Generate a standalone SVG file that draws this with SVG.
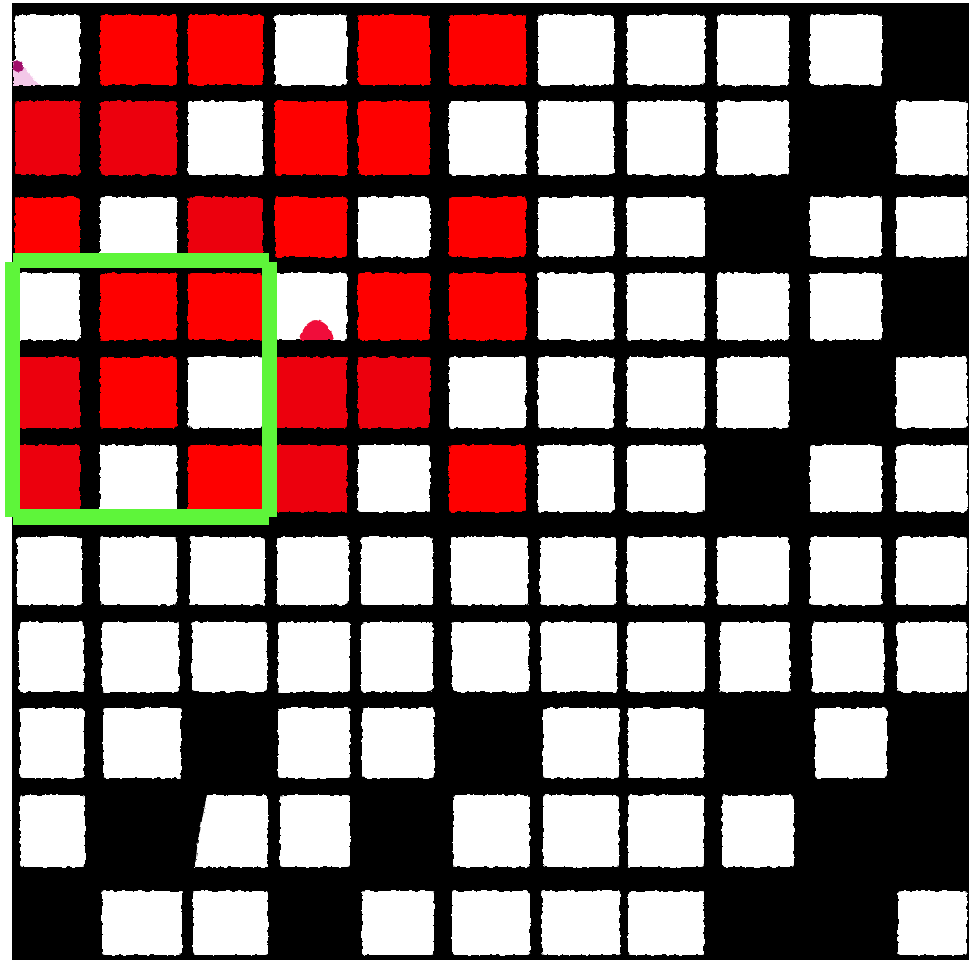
<svg xmlns="http://www.w3.org/2000/svg" width="969" height="960" viewBox="0 0 969 960">
<style>
.w{fill:#ffffff}
.r{fill:#fe0000}
.rd{fill:#ec0307}
</style>
<defs>
<filter id="rough" x="-5%" y="-5%" width="110%" height="110%">
<feTurbulence type="fractalNoise" baseFrequency="0.18" numOctaves="2" seed="3" result="n"/>
<feDisplacementMap in="SourceGraphic" in2="n" scale="4" xChannelSelector="R" yChannelSelector="G"/>
</filter>
</defs>
<rect x="0" y="0" width="969" height="960" fill="#ffffff"/>
<rect x="12" y="3" width="957" height="957" fill="#000000"/>
<g id="cells" filter="url(#rough)">
<!-- row 0 -->
<rect class="w" x="15" y="15" width="65" height="70" rx="3"/>
<rect class="r" x="100" y="15" width="77" height="70" rx="3"/>
<rect class="r" x="188" y="15" width="75" height="70" rx="3"/>
<rect class="w" x="275" y="15" width="72" height="70" rx="3"/>
<rect class="r" x="358" y="15" width="72" height="70" rx="3"/>
<rect class="r" x="449" y="15" width="77" height="70" rx="3"/>
<rect class="w" x="538" y="15" width="76" height="70" rx="3"/>
<rect class="w" x="627" y="15" width="78" height="70" rx="3"/>
<rect class="w" x="717" y="15" width="72" height="70" rx="3"/>
<rect class="w" x="810" y="15" width="72" height="70" rx="3"/>
<!-- row 1 -->
<rect class="rd" x="15" y="101" width="65" height="74" rx="3"/>
<rect class="rd" x="100" y="101" width="77" height="74" rx="3"/>
<rect class="w" x="188" y="101" width="75" height="74" rx="3"/>
<rect class="r" x="275" y="101" width="72" height="74" rx="3"/>
<rect class="r" x="358" y="101" width="72" height="74" rx="3"/>
<rect class="w" x="449" y="101" width="77" height="74" rx="3"/>
<rect class="w" x="538" y="101" width="76" height="74" rx="3"/>
<rect class="w" x="627" y="101" width="78" height="74" rx="3"/>
<rect class="w" x="717" y="101" width="72" height="74" rx="3"/>
<rect class="w" x="896" y="101" width="71" height="74" rx="3"/>
<!-- row 2 -->
<rect class="r" x="15" y="197" width="65" height="60" rx="3"/>
<rect class="w" x="100" y="197" width="77" height="60" rx="3"/>
<rect class="rd" x="188" y="197" width="75" height="60" rx="3"/>
<rect class="r" x="275" y="197" width="72" height="60" rx="3"/>
<rect class="w" x="358" y="197" width="72" height="60" rx="3"/>
<rect class="r" x="449" y="197" width="77" height="60" rx="3"/>
<rect class="w" x="538" y="197" width="76" height="60" rx="3"/>
<rect class="w" x="627" y="197" width="78" height="60" rx="3"/>
<rect class="w" x="810" y="197" width="72" height="60" rx="3"/>
<rect class="w" x="896" y="197" width="71" height="60" rx="3"/>
<!-- row 3 -->
<rect class="w" x="15" y="273" width="65" height="67" rx="3"/>
<rect class="r" x="100" y="273" width="77" height="67" rx="3"/>
<rect class="r" x="188" y="273" width="75" height="67" rx="3"/>
<rect class="w" x="275" y="273" width="72" height="67" rx="3"/>
<rect class="r" x="358" y="273" width="72" height="67" rx="3"/>
<rect class="r" x="449" y="273" width="77" height="67" rx="3"/>
<rect class="w" x="538" y="273" width="76" height="67" rx="3"/>
<rect class="w" x="627" y="273" width="78" height="67" rx="3"/>
<rect class="w" x="717" y="273" width="72" height="67" rx="3"/>
<rect class="w" x="810" y="273" width="72" height="67" rx="3"/>
<!-- row 4 -->
<rect class="rd" x="15" y="357" width="65" height="71" rx="3"/>
<rect class="r" x="100" y="357" width="77" height="71" rx="3"/>
<rect class="w" x="188" y="357" width="75" height="71" rx="3"/>
<rect class="rd" x="275" y="357" width="72" height="71" rx="3"/>
<rect class="rd" x="358" y="357" width="72" height="71" rx="3"/>
<rect class="w" x="449" y="357" width="77" height="71" rx="3"/>
<rect class="w" x="538" y="357" width="76" height="71" rx="3"/>
<rect class="w" x="627" y="357" width="78" height="71" rx="3"/>
<rect class="w" x="717" y="357" width="72" height="71" rx="3"/>
<rect class="w" x="896" y="357" width="71" height="71" rx="3"/>
<!-- row 5 -->
<rect class="rd" x="15" y="445" width="65" height="67" rx="3"/>
<rect class="w" x="100" y="445" width="77" height="67" rx="3"/>
<rect class="r" x="188" y="445" width="75" height="67" rx="3"/>
<rect class="rd" x="275" y="445" width="72" height="67" rx="3"/>
<rect class="w" x="358" y="445" width="72" height="67" rx="3"/>
<rect class="r" x="449" y="445" width="77" height="67" rx="3"/>
<rect class="w" x="538" y="445" width="76" height="67" rx="3"/>
<rect class="w" x="627" y="445" width="78" height="67" rx="3"/>
<rect class="w" x="810" y="445" width="72" height="67" rx="3"/>
<rect class="w" x="896" y="445" width="71" height="67" rx="3"/>
<!-- row 6 -->
<rect class="w" x="17" y="537" width="65" height="68" rx="3"/>
<rect class="w" x="100" y="537" width="77" height="68" rx="3"/>
<rect class="w" x="190" y="537" width="75" height="68" rx="3"/>
<rect class="w" x="277" y="537" width="72" height="68" rx="3"/>
<rect class="w" x="361" y="537" width="72" height="68" rx="3"/>
<rect class="w" x="451" y="537" width="77" height="68" rx="3"/>
<rect class="w" x="540" y="537" width="76" height="68" rx="3"/>
<rect class="w" x="627" y="537" width="78" height="68" rx="3"/>
<rect class="w" x="717" y="537" width="72" height="68" rx="3"/>
<rect class="w" x="810" y="537" width="72" height="68" rx="3"/>
<rect class="w" x="896" y="537" width="71" height="68" rx="3"/>
<!-- row 7 -->
<rect class="w" x="19" y="622" width="65" height="70" rx="3"/>
<rect class="w" x="102" y="622" width="77" height="70" rx="3"/>
<rect class="w" x="192" y="622" width="75" height="70" rx="3"/>
<rect class="w" x="278" y="622" width="72" height="70" rx="3"/>
<rect class="w" x="361" y="622" width="72" height="70" rx="3"/>
<rect class="w" x="452" y="622" width="77" height="70" rx="3"/>
<rect class="w" x="541" y="622" width="76" height="70" rx="3"/>
<rect class="w" x="627" y="622" width="78" height="70" rx="3"/>
<rect class="w" x="720" y="622" width="70" height="70" rx="3"/>
<rect class="w" x="812" y="622" width="72" height="70" rx="3"/>
<rect class="w" x="897" y="622" width="70" height="70" rx="3"/>
<!-- row 8 -->
<rect class="w" x="20" y="708" width="64" height="70" rx="3"/>
<rect class="w" x="103" y="708" width="78" height="70" rx="3"/>
<rect class="w" x="278" y="708" width="72" height="70" rx="3"/>
<rect class="w" x="362" y="708" width="72" height="70" rx="3"/>
<rect class="w" x="543" y="708" width="76" height="70" rx="3"/>
<rect class="w" x="628" y="708" width="76" height="70" rx="3"/>
<rect class="w" x="815" y="708" width="72" height="70" rx="3"/>
<!-- row 9 -->
<rect class="w" x="20" y="795" width="65" height="72" rx="3"/>
<path class="w" d="M207 795 L268 795 L268 867 L195 867 L198 840 Z"/>
<rect class="w" x="280" y="795" width="70" height="72" rx="3"/>
<rect class="w" x="453" y="795" width="77" height="72" rx="3"/>
<rect class="w" x="543" y="795" width="76" height="72" rx="3"/>
<rect class="w" x="628" y="795" width="76" height="72" rx="3"/>
<rect class="w" x="722" y="795" width="72" height="72" rx="3"/>
<!-- row 10 -->
<rect class="w" x="102" y="891" width="80" height="64" rx="3"/>
<rect class="w" x="193" y="891" width="75" height="64" rx="3"/>
<rect class="w" x="362" y="891" width="72" height="64" rx="3"/>
<rect class="w" x="452" y="891" width="78" height="64" rx="3"/>
<rect class="w" x="542" y="891" width="78" height="64" rx="3"/>
<rect class="w" x="628" y="891" width="76" height="64" rx="3"/>
<rect class="w" x="898" y="891" width="69" height="64" rx="3"/>
<!-- blobs -->
<path d="M13 60 L22 66 L40 86 L13 86 Z" fill="#f3c8e8"/>
<ellipse cx="18" cy="66" rx="5" ry="6" fill="#a0106a"/>
<path d="M300 340 Q303 322 316 320 Q330 322 334 340 Z" fill="#f0103a"/>
</g>
<g id="highlight">
<path fill="#5ef53a" fill-rule="evenodd" d="M13 253 L269 253 L269 262 L277 262 L277 517 L269 517 L269 525 L13 525 L13 517 L5 517 L5 262 L13 262 Z M20 268 L262 268 L262 509 L20 509 Z"/>
</g>
</svg>
